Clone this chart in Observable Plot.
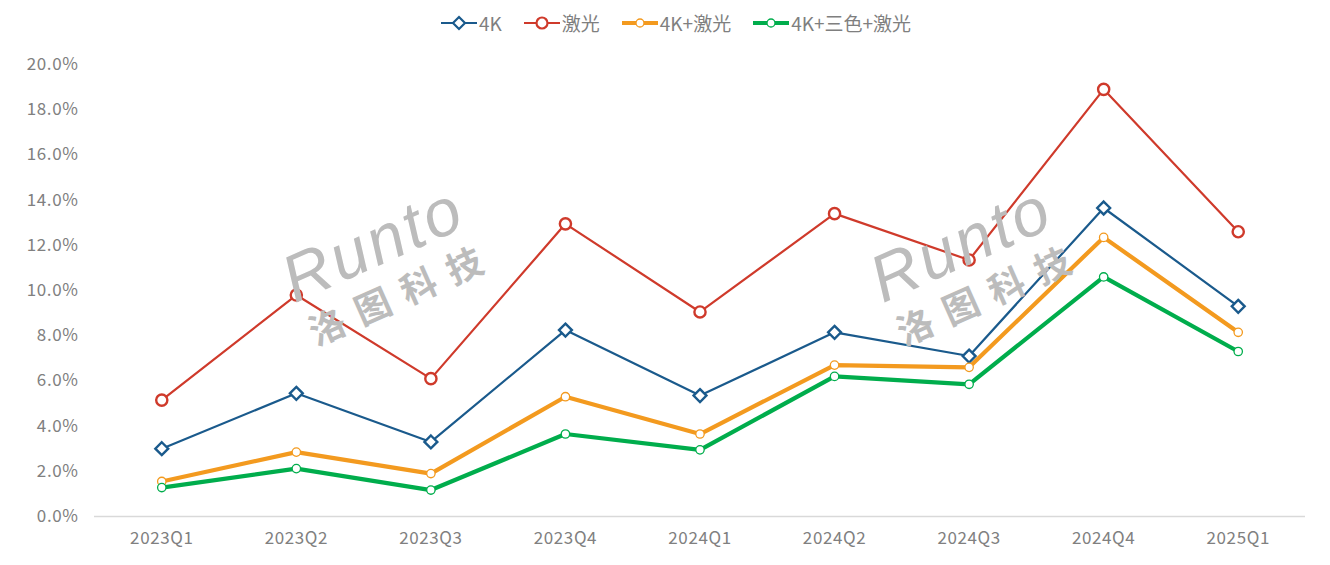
<!DOCTYPE html>
<html><head><meta charset="utf-8">
<script src="https://cdn.jsdelivr.net/npm/d3@7"></script>
<script src="https://cdn.jsdelivr.net/npm/@observablehq/plot@0.6"></script>
<style>
body{margin:0;background:#fff;font-family:"Noto Sans CJK SC","Noto Sans",sans-serif;}
#wrap{position:relative;width:1330px;height:565px;overflow:hidden;}
#legend{height:45px;display:flex;justify-content:center;align-items:center;gap:0;color:#7f7f7f;font-size:19px;padding-left:44px;box-sizing:border-box;}
.item{display:flex;align-items:center;margin-right:22px;}
.item svg{margin-right:2px;}
.wm{position:absolute;color:#bcbcbc;transform:rotate(-24deg);transform-origin:left top;font-family:"Liberation Sans",sans-serif;line-height:1;pointer-events:none;}
.wm .r{font-size:66px;font-style:italic;letter-spacing:3px;}
.wm .c{font-size:36px;font-weight:bold;letter-spacing:14px;margin-left:2px;margin-top:4px;font-family:"Noto Sans CJK SC";}
</style></head>
<body><div id="wrap"><div id="legend"></div><div id="chart"></div></div>
<script>
const quarters = ["2023Q1","2023Q2","2023Q3","2023Q4","2024Q1","2024Q2","2024Q3","2024Q4","2025Q1"];
const seriesNames = ["4K","激光","4K+激光","4K+三色+激光"];
const v4K = [3.0, 5.45, 3.3, 8.25, 5.35, 8.15, 7.1, 13.65, 9.3];
const vLaser = [5.15, 9.8, 6.1, 12.95, 9.05, 13.4, 11.35, 18.9, 12.6];
const v4KLaser = [1.55, 2.85, 1.9, 5.3, 3.65, 6.7, 6.6, 12.35, 8.15];
const v4K3Laser = [1.28, 2.12, 1.17, 3.65, 2.95, 6.2, 5.85, 10.6, 7.3];
const yTicks = [0,2,4,6,8,10,12,14,16,18,20];
const colors = ["#1a5a8c","#cf3a2b","#f39a1f","#00ad4c"];

const all = [v4K, vLaser, v4KLaser, v4K3Laser];
const data = [];
all.forEach((arr, si) => arr.forEach((v, i) => data.push({q: quarters[i], s: seriesNames[si], v})));
const by = s => data.filter(d => d.s === s);

const chart = Plot.plot({
  width: 1330, height: 520,
  marginTop: 19, marginBottom: 49, marginLeft: 94, marginRight: 25,
  style: {fontFamily: '"Noto Sans CJK SC", sans-serif', fontSize: "17px", color: "#7f7f7f", letterSpacing: "0.6px"},
  x: {type: "point", domain: quarters, padding: 0.5, round: false, label: null},
  y: {domain: [0, 20], label: null, ticks: yTicks},
  marks: [
    Plot.axisY({ticks: yTicks, tickSize: 0, tickPadding: 16, tickFormat: d => d.toFixed(1) + "%", fill: "#808080", fontSize: 17}),
    Plot.axisX({tickSize: 0, tickPadding: 15, fill: "#808080", fontSize: 17}),
    Plot.ruleY([0], {stroke: "#d9d9d9", strokeWidth: 1.5}),
    Plot.line(by("4K"), {x: "q", y: "v", stroke: colors[0], strokeWidth: 2.2}),
    Plot.line(by("激光"), {x: "q", y: "v", stroke: colors[1], strokeWidth: 2.2}),
    Plot.line(by("4K+激光"), {x: "q", y: "v", stroke: colors[2], strokeWidth: 4.2}),
    Plot.line(by("4K+三色+激光"), {x: "q", y: "v", stroke: colors[3], strokeWidth: 4.2}),
    Plot.dot(by("4K"), {x: "q", y: "v", symbol: "diamond2", r: 5.8, stroke: colors[0], strokeWidth: 2.4, fill: "white"}),
    Plot.dot(by("激光"), {x: "q", y: "v", r: 5.6, stroke: colors[1], strokeWidth: 2.4, fill: "white"}),
    Plot.dot(by("4K+激光"), {x: "q", y: "v", r: 4.2, stroke: colors[2], strokeWidth: 1.3, fill: "white"}),
    Plot.dot(by("4K+三色+激光"), {x: "q", y: "v", r: 4.2, stroke: colors[3], strokeWidth: 1.3, fill: "white"})
  ]
});
document.getElementById("chart").appendChild(chart);

// legend
const leg = document.getElementById("legend");
seriesNames.forEach((s, i) => {
  const thick = i >= 2;
  let marker;
  if (i === 0) marker = `<path d="M18,4 L24,10 L18,16 L12,10 Z" fill="white" stroke="${colors[i]}" stroke-width="2.2"/>`;
  else if (i === 1) marker = `<circle cx="18" cy="10" r="5.5" fill="white" stroke="${colors[i]}" stroke-width="2.2"/>`;
  else marker = `<circle cx="18" cy="10" r="4" fill="white" stroke="${colors[i]}" stroke-width="1.3"/>`;
  const el = document.createElement("div");
  el.className = "item";
  el.innerHTML = `<svg width="36" height="20"><line x1="0" x2="36" y1="10" y2="10" stroke="${colors[i]}" stroke-width="${thick ? 4 : 2.2}"/>${marker}</svg><span>${s}</span>`;
  leg.appendChild(el);
});

// watermarks
[[272, 252], [860, 252]].forEach(([x, y]) => {
  const w = document.createElement("div");
  w.className = "wm";
  w.style.left = x + "px"; w.style.top = y + "px";
  w.innerHTML = `<div class="r">Runto</div><div class="c">洛图科技</div>`;
  document.getElementById("wrap").appendChild(w);
});
</script></body></html>
